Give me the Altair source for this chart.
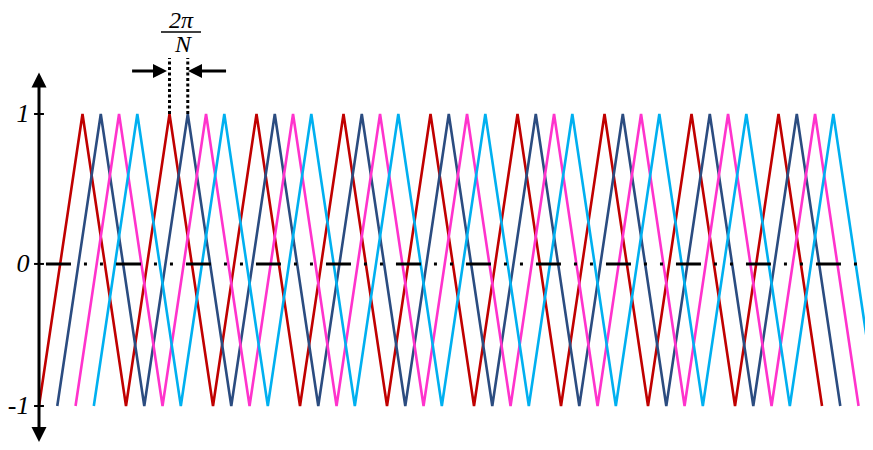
import altair as alt
import pandas as pd

# ---- data ----
# vertex times of the first (red) carrier, in carrier periods, and the level at each vertex
red_vertex_t = [0.0, 0.5, 1.0, 1.5, 2.0, 2.5, 3.0, 3.5, 4.0, 4.5,
                5.0, 5.5, 6.0, 6.5, 7.0, 7.5, 8.0, 8.5, 9.0]
vertex_level = [-1, 1, -1, 1, -1, 1, -1, 1, -1, 1,
                -1, 1, -1, 1, -1, 1, -1, 1, -1]
series = ["Carrier 1", "Carrier 2", "Carrier 3", "Carrier 4"]
phase_offset = [0.0, 0.21, 0.42, 0.63]          # shift of each carrier, in periods
colors = ["#C00000", "#2B4C80", "#FF33CC", "#00B0F0"]

tick_values = [1.0, -0.027, -1.0]
tick_labels = ["1", "0", "-1"]
zero_level = -0.027

rows = []
for s, off in zip(series, phase_offset):
    for i, (t, v) in enumerate(zip(red_vertex_t, vertex_level)):
        rows.append({"series": s, "t": t + off, "v": v, "i": i})
carriers = pd.DataFrame(rows)

XS = alt.Scale(domain=[-0.3563, 9.494], nice=False, zero=False)
YS = alt.Scale(domain=[-1.2466, 1.726], nice=False, zero=False)
FONT = "Liberation Serif"


def X(f):
    return alt.X(f, type="quantitative", scale=XS, axis=None)


def Y(f):
    return alt.Y(f, type="quantitative", scale=YS, axis=None)


lines = alt.Chart(carriers).mark_line(strokeWidth=2.6, clip=True).encode(
    x=X("t"), y=Y("v"),
    color=alt.Color("series:N", scale=alt.Scale(domain=series, range=colors), legend=None),
    order="i:Q",
)

zero_df = pd.DataFrame({"x": [0.08], "x2": [9.48], "y": [zero_level]})
zero_line = alt.Chart(zero_df).mark_rule(
    color="black", strokeWidth=3, strokeDash=[25, 13, 3, 13, 3, 13], strokeCap="butt"
).encode(x=X("x"), x2=alt.X2("x2"), y=Y("y"))

axis_df = pd.DataFrame({"x": [0.0], "y": [-1.195], "y2": [1.235]})
axis_line = alt.Chart(axis_df).mark_rule(color="black", strokeWidth=3).encode(
    x=X("x"), y=Y("y"), y2=alt.Y2("y2"))

up_df = pd.DataFrame({"x": [0.0], "y": [1.233]})
up_arrow = alt.Chart(up_df).mark_point(
    shape="M0,-1L1,1L-1,1Z", filled=True, size=225, color="black", opacity=1, strokeWidth=0
).encode(x=X("x"), y=Y("y"))
down_df = pd.DataFrame({"x": [0.0], "y": [-1.195]})
down_arrow = alt.Chart(down_df).mark_point(
    shape="M0,1L1,-1L-1,-1Z", filled=True, size=225, color="black", opacity=1, strokeWidth=0
).encode(x=X("x"), y=Y("y"))

tick_df = pd.DataFrame({"x": [-0.057] * 3, "x2": [0.057] * 3, "y": tick_values})
ticks = alt.Chart(tick_df).mark_rule(color="black", strokeWidth=2).encode(
    x=X("x"), x2=alt.X2("x2"), y=Y("y"))

lab_df = pd.DataFrame({"x": [-0.11] * 3, "y": tick_values, "label": tick_labels})
labels = alt.Chart(lab_df).mark_text(
    font=FONT, fontStyle="italic", fontSize=26, align="right", baseline="middle", color="black"
).encode(x=X("x"), y=Y("y"), text="label:N")

# annotation: spacing between first two carriers' second peaks
peak_a = red_vertex_t[3] + phase_offset[0]
peak_b = red_vertex_t[3] + phase_offset[1]
dot_df = pd.DataFrame({"x": [peak_a, peak_b], "y": [1.0, 1.0], "y2": [1.384, 1.384]})
dotted = alt.Chart(dot_df).mark_rule(
    color="black", strokeWidth=3, strokeDash=[3, 2.5], strokeCap="butt"
).encode(x=X("x"), y=Y("y"), y2=alt.Y2("y2"))

harrow_df = pd.DataFrame({"x": [1.07, 1.793], "x2": [1.39, 2.15], "y": [1.2945, 1.2945]})
harrow_lines = alt.Chart(harrow_df).mark_rule(color="black", strokeWidth=3).encode(
    x=X("x"), x2=alt.X2("x2"), y=Y("y"))
right_head = alt.Chart(pd.DataFrame({"x": [1.391], "y": [1.2945]})).mark_point(
    shape="M-1,-1L1,0L-1,1Z", filled=True, size=196, color="black", opacity=1, strokeWidth=0
).encode(x=X("x"), y=Y("y"))
left_head = alt.Chart(pd.DataFrame({"x": [1.793], "y": [1.2945]})).mark_point(
    shape="M1,-1L-1,0L1,1Z", filled=True, size=196, color="black", opacity=1, strokeWidth=0
).encode(x=X("x"), y=Y("y"))

frac_df = pd.DataFrame({"x": [1.632, 1.655], "y": [1.640, 1.470], "label": ["2π", "N"]})
frac_text = alt.Chart(frac_df).mark_text(
    font=FONT, fontStyle="italic", fontSize=24, align="center", baseline="middle", color="black"
).encode(x=X("x"), y=Y("y"), text="label:N")
bar_df = pd.DataFrame({"x": [1.402], "x2": [1.862], "y": [1.562]})
frac_bar = alt.Chart(bar_df).mark_rule(color="black", strokeWidth=1.5).encode(
    x=X("x"), x2=alt.X2("x2"), y=Y("y"))

chart = alt.layer(
    lines, zero_line, axis_line, up_arrow, down_arrow, ticks, labels,
    dotted, harrow_lines, right_head, left_head, frac_text, frac_bar,
).properties(
    width=857, height=434,
    autosize=alt.AutoSizeParams(type="none"),
    padding=0,
    background="white",
).configure_view(stroke=None)

chart.save("out.html", embed_options={"renderer": "svg", "actions": False})
